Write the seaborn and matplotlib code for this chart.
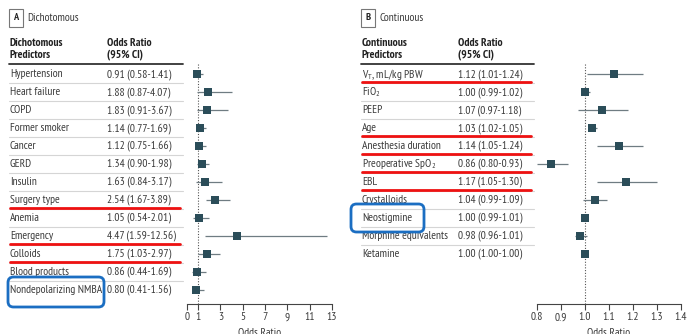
import matplotlib
matplotlib.use('Agg')
import matplotlib.pyplot as plt
from matplotlib.patches import FancyBboxPatch
import seaborn as sns
import pandas as pd

# 데이터
dich_names = ['Hypertension', 'Heart failure', 'COPD', 'Former smoker', 'Cancer', 'GERD',
              'Insulin', 'Surgery type', 'Anemia', 'Emergency', 'Colloids',
              'Blood products', 'Nondepolarizing NMBA']
dich_or = [0.91, 1.88, 1.83, 1.14, 1.12, 1.34, 1.63, 2.54, 1.05, 4.47, 1.75, 0.86, 0.80]
dich_lo = [0.58, 0.87, 0.91, 0.77, 0.75, 0.90, 0.84, 1.67, 0.54, 1.59, 1.03, 0.44, 0.41]
dich_hi = [1.41, 4.07, 3.67, 1.69, 1.66, 1.98, 3.17, 3.89, 2.01, 12.56, 2.97, 1.69, 1.56]
dich_red = ['Surgery type', 'Emergency', 'Colloids']

cont_names = [r'V$_\mathregular{T}$, mL/kg PBW', r'FiO$_\mathregular{2}$', 'PEEP', 'Age',
              'Anesthesia duration', r'Preoperative SpO$_\mathregular{2}$', 'EBL',
              'Crystalloids', 'Neostigmine', 'Morphine equivalents', 'Ketamine']
cont_or = [1.12, 1.00, 1.07, 1.03, 1.14, 0.86, 1.17, 1.04, 1.00, 0.98, 1.00]
cont_lo = [1.01, 0.99, 0.97, 1.02, 1.05, 0.80, 1.05, 0.99, 0.99, 0.96, 1.00]
cont_hi = [1.24, 1.02, 1.18, 1.05, 1.24, 0.93, 1.30, 1.09, 1.01, 1.01, 1.00]
cont_red = [0, 3, 4, 5, 6]

dich_ticks = [0, 1, 3, 5, 7, 9, 11, 13]
cont_ticks = [0.8, 0.9, 1.0, 1.1, 1.2, 1.3, 1.4]

sns.set_theme(style='white')
plt.rcParams['font.family'] = ['PT Sans Narrow', 'DejaVu Sans']
plt.rcParams['mathtext.default'] = 'regular'

W, H = 688, 334
fig = plt.figure(figsize=(W / 100, H / 100), dpi=100)

TXT = '#3a3a3a'
MARK = '#2b4d59'
LINE = '#6f7c82'
FS = 8.3


def box(x0, x1, y0, y1):
    # 픽셀 좌표 -> figure 좌표
    return [x0 / W, 1 - y1 / H, (x1 - x0) / W, (y1 - y0) / H]


def panel(letter, title, head, names, orv, lov, hiv, red_rows, blue_box,
          tab_x, col2_x, plot_x, xlim, ticks, ticklabels, label_x):
    n = len(names)
    ylim = (12.78, -0.56)
    ax = fig.add_axes(box(plot_x[0], plot_x[1], 64, 304))
    tab = fig.add_axes(box(tab_x[0], tab_x[1], 64, 304), sharey=ax)
    tab.set_xlim(tab_x[0], tab_x[1])
    tab.axis('off')

    df = pd.DataFrame({'name': names, 'or': orv, 'lo': lov, 'hi': hiv, 'row': range(n)})
    ax.hlines(df['row'], df['lo'], df['hi'], color=LINE, lw=0.9, zorder=2)
    sns.scatterplot(data=df, x='or', y='row', marker='s', s=32, color=MARK,
                    edgecolor=MARK, linewidth=0, ax=ax, zorder=3)
    ax.axvline(1, color='#555555', lw=0.8, ls=(0, (1, 1.5)), zorder=1)
    ax.set_xlim(*xlim)
    ax.set_ylim(*ylim)
    ax.set_xticks(ticks)
    ax.set_xticklabels(ticklabels)
    ax.set_yticks([])
    for s in ['top', 'right', 'left']:
        ax.spines[s].set_visible(False)
    ax.spines['bottom'].set_color('#444444')
    ax.spines['bottom'].set_linewidth(0.8)
    ax.tick_params(axis='x', bottom=True, length=4, width=0.8, color='#444444',
                   labelsize=FS, labelcolor=TXT, pad=2)
    ax.set_xlabel('Odds Ratio', fontsize=FS, color=TXT, labelpad=4)
    ax.set_ylabel('')
    ax.patch.set_alpha(0)

    # 표
    c1 = tab_x[0] + 2
    for i, name in enumerate(names):
        tab.text(c1, i, name, fontsize=FS, color=TXT, va='center', ha='left')
        tab.text(col2_x, i, f'{orv[i]:.2f} ({lov[i]:.2f}-{hiv[i]:.2f})',
                 fontsize=FS, color=TXT, va='center', ha='left')
        if i < n - 1:
            tab.plot([tab_x[0] + 1, tab_x[1]], [i + 0.5, i + 0.5], color='#d5d5d5',
                     lw=0.8, clip_on=False)
    for i in red_rows:
        tab.plot([c1, tab_x[1] - 3], [i + 0.43, i + 0.43], color='#ee1111', lw=2,
                 clip_on=False, zorder=4)
    tab.plot([tab_x[0] + 1, tab_x[1]], [-0.56, -0.56], color='#333333', lw=1.3,
             clip_on=False)
    tab.text(c1, -1.4, head, fontsize=FS, color='#222222', fontweight='bold',
             va='center', ha='left', linespacing=1.2)
    tab.text(col2_x, -1.4, 'Odds Ratio\n(95% CI)', fontsize=FS, color='#222222',
             fontweight='bold', va='center', ha='left', linespacing=1.2)

    # 파란 박스
    bx0, bx1, by0, by1 = blue_box
    fig.patches.append(FancyBboxPatch((bx0 / W, 1 - by1 / H), (bx1 - bx0) / W,
                                      (by1 - by0) / H,
                                      boxstyle='round,pad=0,rounding_size=0.008',
                                      mutation_aspect=W / H, transform=fig.transFigure,
                                      fill=False, edgecolor='#1b6ec2', lw=2, zorder=5))

    # 패널 제목
    fig.text(label_x / W, 1 - 18 / H, letter, fontsize=7.5, color='#222222',
             fontweight='bold', va='center', ha='center',
             bbox=dict(boxstyle='square,pad=0.4', fc='white', ec='#777777', lw=0.8))
    fig.text((label_x + 11) / W, 1 - 18 / H, title, fontsize=FS, color=TXT,
             va='center', ha='left')


panel('A', 'Dichotomous', 'Dichotomous\nPredictors', dich_names, dich_or, dich_lo, dich_hi,
      [dich_names.index(r) for r in dich_red], (8, 104, 277, 307),
      (8, 183), 107, (187, 332), (0, 13), dich_ticks, [str(t) for t in dich_ticks], 16)

panel('B', 'Continuous', 'Continuous\nPredictors', cont_names, cont_or, cont_lo, cont_hi,
      cont_red, (351, 424, 204, 232),
      (360, 534), 458, (537, 681), (0.8, 1.4), cont_ticks,
      [f'{t:.1f}' for t in cont_ticks], 368)

fig.savefig('out.png', dpi=100, facecolor='white')
